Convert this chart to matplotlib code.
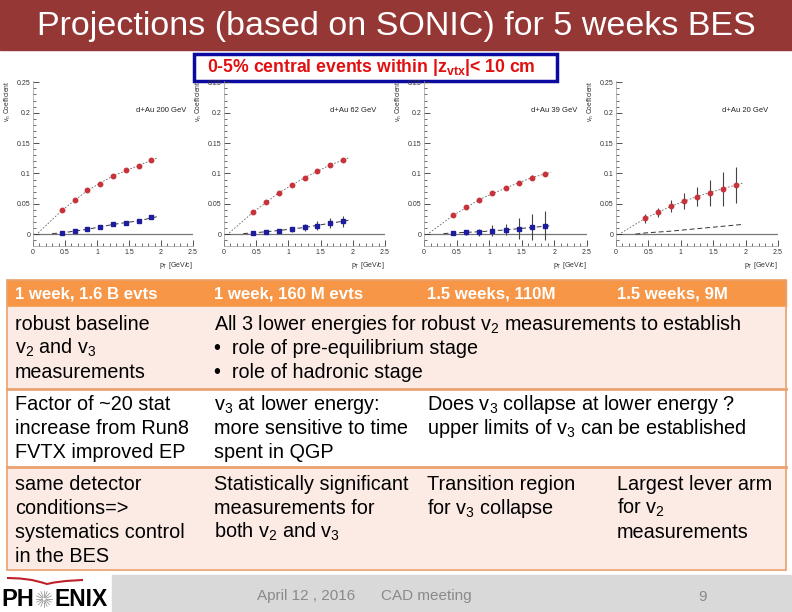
import matplotlib
matplotlib.use("Agg")
import matplotlib.pyplot as plt
from matplotlib.patches import Rectangle
import numpy as np

plt.rcParams['font.family'] = ['Liberation Sans', 'DejaVu Sans']
plt.rcParams['mathtext.fontset'] = 'custom'
plt.rcParams['mathtext.rm'] = 'Liberation Sans'
plt.rcParams['mathtext.it'] = 'Liberation Sans:italic'
plt.rcParams['mathtext.bf'] = 'Liberation Sans:bold'
plt.rcParams['mathtext.default'] = 'regular'

# ------------------------------------
# data (read off the projections)
# ------------------------------------
pt = [0.45, 0.65, 0.85, 1.05, 1.25, 1.45, 1.65, 1.85]
fit_x_v2 = [0.08, 0.45, 0.85, 1.25, 1.65, 1.95]
fit_x_v3 = [0.30, 0.45, 0.85, 1.25, 1.65, 1.95]

energies = ['200', '62', '39', '20']

v2 = {
    '200': [0.039, 0.057, 0.072, 0.083, 0.096, 0.106, 0.113, 0.122],
    '62': [0.036, 0.053, 0.068, 0.081, 0.093, 0.104, 0.114, 0.122],
    '39': [0.031, 0.044, 0.057, 0.067, 0.076, 0.084, 0.093, 0.099],
    '20': [0.026, 0.036, 0.046, 0.054, 0.062, 0.068, 0.075, 0.081],
}
v2_err = {
    '200': [0.001, 0.001, 0.001, 0.001, 0.001, 0.001, 0.001, 0.001],
    '62': [0.001, 0.001, 0.001, 0.001, 0.001, 0.001, 0.002, 0.002],
    '39': [0.001, 0.001, 0.002, 0.002, 0.002, 0.003, 0.004, 0.004],
    '20': [0.007, 0.007, 0.010, 0.013, 0.015, 0.022, 0.028, 0.030],
}
v3 = {
    '200': [0.002, 0.006, 0.008, 0.012, 0.016, 0.019, 0.022, 0.028],
    '62': [0.002, 0.003, 0.006, 0.008, 0.011, 0.014, 0.018, 0.021],
    '39': [0.002, 0.003, 0.003, 0.006, 0.007, 0.009, 0.012, 0.014],
}
v3_err = {
    '200': [0.001, 0.001, 0.001, 0.001, 0.001, 0.001, 0.002, 0.002],
    '62': [0.002, 0.002, 0.003, 0.004, 0.005, 0.007, 0.008, 0.009],
    '39': [0.003, 0.004, 0.006, 0.009, 0.009, 0.017, 0.021, 0.024],
}
fit_v2 = {
    '200': [0.002, 0.039, 0.072, 0.096, 0.113, 0.126],
    '62': [0.002, 0.036, 0.068, 0.093, 0.114, 0.126],
    '39': [0.002, 0.031, 0.057, 0.076, 0.093, 0.102],
    '20': [0.002, 0.026, 0.046, 0.062, 0.075, 0.084],
}
fit_v3 = {
    '200': [0.001, 0.002, 0.008, 0.016, 0.022, 0.029],
    '62': [0.001, 0.002, 0.006, 0.011, 0.018, 0.023],
    '39': [0.001, 0.002, 0.004, 0.007, 0.011, 0.014],
    '20': [0.000, 0.002, 0.005, 0.009, 0.013, 0.016],
}

# panel placement in pixels (left, width)
panel_px = [(33, 160), (224, 161), (424, 163), (616, 162)]

header = ['1 week, 1.6 B evts', '1 week, 160 M evts', '1.5 weeks, 110M', '1.5 weeks, 9M']
col_x = [15, 214, 427, 617]

W, H = 792, 612
fig = plt.figure(figsize=(W / 100, H / 100), dpi=100)
bg = fig.add_axes([0, 0, 1, 1])
bg.set_xlim(0, W)
bg.set_ylim(H, 0)
bg.axis('off')

# title bar
bg.add_patch(Rectangle((0, 0), W, 50, color='#953735', zorder=1))
bg.text(396, 26, 'Projections (based on SONIC) for 5 weeks BES', color='white',
        fontsize=24.5, ha='center', va='center', zorder=2)

# blue box
bg.add_patch(Rectangle((194, 54), 363, 27, facecolor='white', edgecolor='#0a0aa0', lw=2.5, zorder=2))
bg.text(207, 68, r'0-5% central events within |$\mathbf{z_{vtx}}$|< 10 cm', color='#e01010',
        fontsize=12.7, fontweight='bold', ha='left', va='center', zorder=3)

# ------------------------------------
# projection panels
# ------------------------------------
ylo, yhi = -0.0195, 0.252
for i, e in enumerate(energies):
    left, width = panel_px[i]
    bottom = 246
    top = 87 - (yhi - 0.25) * 2940
    ax = fig.add_axes([left / W, (H - bottom) / H, width / W, (bottom - top) / H])
    ax.patch.set_alpha(0)
    ax.set_xlim(0, 2.5)
    ax.set_ylim(ylo, yhi)
    ax.axhline(0, color='#777777', lw=0.9, zorder=1)
    ax.plot(fit_x_v2, fit_v2[e], color='#666666', lw=0.6, ls=(0, (2, 2)), zorder=2)
    ax.plot(fit_x_v3, fit_v3[e], color='#333333', lw=0.7, ls=(0, (5, 3)), zorder=2)
    ax.errorbar(pt, v2[e], yerr=v2_err[e], fmt='o', ms=3.2, color='#c8323a',
                ecolor='#444444', elinewidth=0.8, capsize=0, zorder=3)
    if e in v3:
        ax.errorbar(pt, v3[e], yerr=v3_err[e], fmt='s', ms=3.0, color='#1c1c9c',
                    ecolor='#444444', elinewidth=0.8, capsize=0, zorder=3)

    ax.set_xticks([0, 0.5, 1, 1.5, 2, 2.5])
    ax.set_xticklabels(['0', '0.5', '1', '1.5', '2', '2.5'])
    ax.set_yticks([0, 0.05, 0.1, 0.15, 0.2, 0.25])
    ax.set_yticklabels(['0', '0.05', '0.1', '0.15', '0.2', '0.25'])
    ax.set_xticks(np.arange(0, 2.55, 0.1), minor=True)
    ax.set_yticks(np.arange(-0.01, 0.255, 0.01), minor=True)
    ax.tick_params(which='both', direction='in', labelsize=5, colors='#333333', pad=2)
    ax.tick_params(which='major', length=4, width=0.6)
    ax.tick_params(which='minor', length=2, width=0.5)
    for s in ['top', 'right']:
        ax.spines[s].set_visible(False)
    for s in ['left', 'bottom']:
        ax.spines[s].set_color('#999999')
        ax.spines[s].set_linewidth(0.5)

    ax.text(2.0, 0.204, f'd+Au {e} GeV', fontsize=5.5, ha='center', va='center', color='#222222')
    ax.text(-0.155, 1.0, r'v$_n$ Coefficient', transform=ax.transAxes, rotation=90,
            fontsize=4.8, ha='center', va='top', color='#333333')
    ax.text(1.0, -0.085, r'p$_T$ [GeV/c]', transform=ax.transAxes, fontsize=5,
            ha='right', va='top', color='#333333')

# ------------------------------------
# table
# ------------------------------------
orange = '#f79646'
light = '#fcebe4'
bg.add_patch(Rectangle((7, 280), 779, 27, color=orange, zorder=1))
bg.add_patch(Rectangle((7, 307), 779, 81, color=light, zorder=1))
bg.add_patch(Rectangle((7, 389), 779, 78, color='white', zorder=1))
bg.add_patch(Rectangle((7, 467), 779, 103, color=light, zorder=1))
bg.add_patch(Rectangle((7, 280), 779, 290, fill=False, edgecolor='#e9a270', lw=1.2, zorder=2))
for y in [388.5, 467]:
    bg.plot([7, 786], [y, y], color='#e9a270', lw=2, zorder=2)

for x, t in zip(col_x, header):
    bg.text(x, 294, t, color='white', fontweight='bold', fontsize=12.1, ha='left', va='center', zorder=3)

body = dict(fontsize=14.2, ha='left', va='center', color='black', zorder=3)
row1 = [(15, 324, 'robust baseline'), (15, 348, 'v$_2$ and v$_3$'), (15, 372, 'measurements'),
        (214, 324, 'All 3 lower energies for robust v$_2$ measurements to establish'),
        (214, 348, '•  role of pre-equilibrium stage'),
        (214, 372, '•  role of hadronic stage')]
for x, y, t in row1:
    bg.text(x, y, t, **body)

narrow = dict(fontsize=14.3, ha='left', va='center', color='black', zorder=3)
row23 = [(15, 405, 'Factor of ~20 stat'), (15, 429, 'increase from Run8'), (15, 453, 'FVTX improved EP'),
         (214, 405, 'v$_3$ at lower energy:'), (214, 429, 'more sensitive to time'), (214, 453, 'spent in QGP'),
         (427, 405, 'Does v$_3$ collapse at lower energy ?'),
         (427, 429, 'upper limits of v$_3$ can be established'),
         (15, 484, 'same detector'), (15, 508, 'conditions=>'), (15, 532, 'systematics control'),
         (15, 556, 'in the BES'),
         (214, 484, 'Statistically significant'), (214, 508, 'measurements for'), (214, 532, 'both v$_2$ and v$_3$'),
         (427, 484, 'Transition region'), (427, 508, 'for v$_3$ collapse'),
         (617, 484, 'Largest lever arm'), (617, 508, 'for v$_2$'), (617, 532, 'measurements')]
for x, y, t in row23:
    bg.text(x, y, t, **narrow)

# ------------------------------------
# footer
# ------------------------------------
bg.add_patch(Rectangle((112, 575), W - 112, H - 575, color='#d9d9d9', zorder=1))
foot = dict(fontsize=11, ha='left', va='center', color='#8a8a8a', zorder=2)
bg.text(257, 596, 'April 12 , 2016', **foot)
bg.text(381, 596, 'CAD meeting', **foot)
bg.text(698, 597, '9', **foot)

# PHENIX logo
bg.text(1, 600, 'PH', fontsize=17, fontweight='bold', ha='left', va='center', color='black', zorder=3)
bg.text(54, 600, 'ENIX', fontsize=16.5, fontweight='bold', ha='left', va='center', color='black', zorder=3)
for a in np.linspace(0, 2 * np.pi, 16, endpoint=False):
    bg.plot([44 + 2 * np.cos(a), 44 + 8 * np.cos(a)], [599 + 2 * np.sin(a), 599 + 8 * np.sin(a)],
            color='#999999', lw=0.6, zorder=3)
wing_x = [8, 20, 32, 42, 47, 54, 66, 82]
wing_y = [578, 578.5, 580, 582.5, 584, 582.5, 581, 580]
bg.plot(wing_x, wing_y, color='#c0202a', lw=1.5, zorder=3)

fig.savefig('out.png', dpi=100)
